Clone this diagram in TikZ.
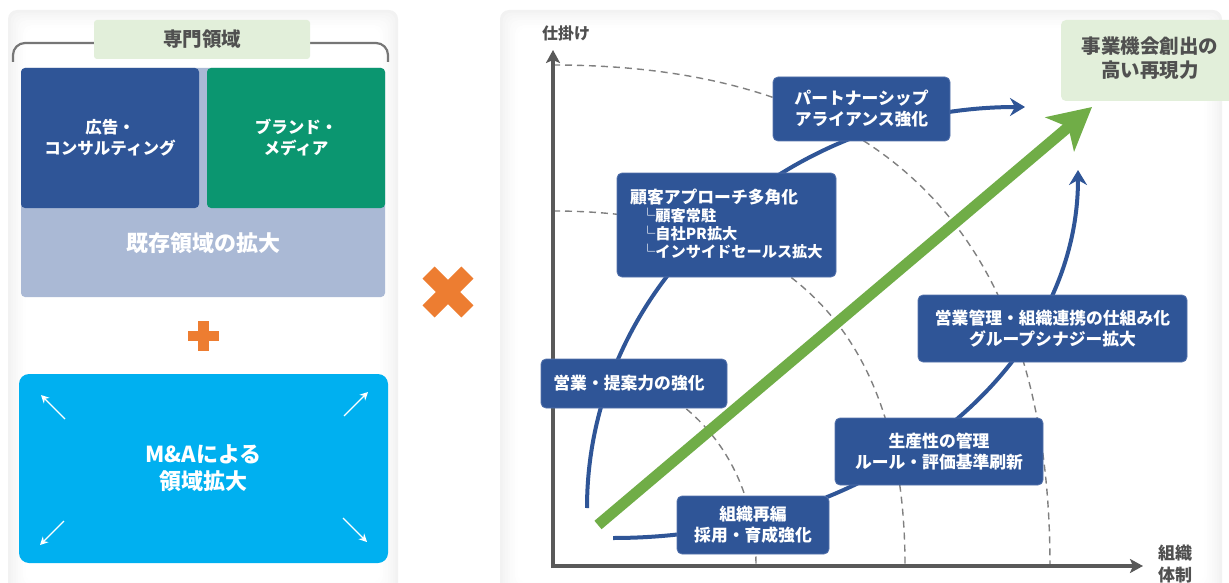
\documentclass[tikz,border=0pt]{standalone}
\usepackage{fontspec}
\newfontfamily\jp{Noto Sans CJK JP}
\usetikzlibrary{arrows.meta}
\definecolor{boxblue}{HTML}{2F5597}
\definecolor{boxedge}{HTML}{5573AC}
\definecolor{greenbox}{HTML}{0B9670}
\definecolor{lightbox}{HTML}{AAB9D5}
\definecolor{hdrfill}{HTML}{E2EFDA}
\definecolor{cyanbox}{HTML}{00B0F0}
\definecolor{orangec}{HTML}{ED7D31}
\definecolor{axisgray}{HTML}{595959}
\definecolor{dashgray}{HTML}{808080}
\definecolor{arrowgreen}{HTML}{70AD47}
\definecolor{textgray}{HTML}{505050}
\definecolor{bracketgray}{HTML}{767676}
\newcommand\fsz[2]{\fontsize{#1}{#2}\selectfont}
\begin{document}
\begin{tikzpicture}[x=1pt,y=-1pt,
  bx/.style={draw=boxedge, line width=0.8pt, fill=boxblue, rounded corners=5pt, text=white, align=center, inner sep=0pt, font=\jp\bfseries\fsz{16.8}{21}},
  subtxt/.style={text=white, inner sep=0pt, anchor=west, font=\jp\bfseries\fsz{15.2}{18}},
  blueflow/.style={draw=boxblue, line width=4pt, -{Stealth[length=15pt,width=18pt,inset=5pt]}},
  dasharc/.style={draw=dashgray, line width=1.4pt, dash pattern=on 7pt off 5pt},
  axisline/.style={draw=axisgray, line width=4.5pt, -{Stealth[length=13pt,width=14pt,inset=3pt]}},
  whitearrow/.style={draw=white, line width=1.3pt, -{Stealth[length=8pt,width=8pt]}},
  lefttile/.style={text=white, align=center, inner sep=0pt, font=\jp\bfseries\fsz{16.5}{21}},
  bigtxt/.style={text=white, align=center, inner sep=0pt, font=\jp\bfseries\fsz{22}{27}},
  graytxt/.style={text=textgray, align=center, inner sep=0pt}
]
\useasboundingbox (0,0) rectangle (1229,583);
% panels with soft edges
\foreach \i/\c in {0/5,1/4,2/3.1,3/2.3,4/1.6,5/1,6/0.5,7/0}{
  \fill[black!\c, rounded corners=9pt] (8+\i*2.5,10+\i*2.5) rectangle (398-\i*2.5,600-\i*2.5);
  \fill[black!\c, rounded corners=9pt] (500+\i*2.5,10+\i*2.5) rectangle (1222-\i*2.5,600-\i*2.5);
}
% ---------------- left panel ----------------
\draw[bracketgray, line width=2.2pt, rounded corners=12pt] (13,62) |- (94,43);
\draw[bracketgray, line width=2.2pt, rounded corners=12pt] (310,43) -| (388,62);
\node[fill=hdrfill, rounded corners=3pt, minimum width=216pt, minimum height=39pt, inner sep=0pt, text=textgray, font=\jp\bfseries\fsz{19.5}{24}] (hdr) at (202,39.5) {専門領域};
\node[fill=lightbox, rounded corners=4pt, minimum width=364pt, minimum height=229pt, inner sep=0pt] (exist) at (203,182.5) {};
\node[fill=boxblue, rounded corners=4pt, minimum width=178pt, minimum height=140pt, lefttile] (adv) at (110,138) {広告・\\コンサルティング};
\node[fill=greenbox, rounded corners=4pt, minimum width=178pt, minimum height=140pt, lefttile] (brand) at (296,138) {ブランド・\\メディア};
\node[bigtxt] (existtxt) at (203,243) {既存領域の拡大};
% plus
\fill[orangec] (188,331) rectangle (219,341);
\fill[orangec] (198,321) rectangle (209,351);
% M&A box
\node[fill=cyanbox, rounded corners=10pt, minimum width=369pt, minimum height=189pt, inner sep=0pt, bigtxt] (ma) at (203.5,468.5) {M\&Aによる\\領域拡大};
\coordinate (tl0) at (65,419); \coordinate (tl1) at (41,395);
\coordinate (tr0) at (344,416); \coordinate (tr1) at (368,392);
\coordinate (bl0) at (64,521); \coordinate (bl1) at (40,545);
\coordinate (br0) at (343,518); \coordinate (br1) at (367,542);
\draw[whitearrow] (tl0) -- (tl1);
\draw[whitearrow] (tr0) -- (tr1);
\draw[whitearrow] (bl0) -- (bl1);
\draw[whitearrow] (br0) -- (br1);
% times sign
\fill[orangec, rotate around={45:(448,292)}] (420.5,283.5) rectangle (475.5,300.5);
\fill[orangec, rotate around={-45:(448,292)}] (420.5,283.5) rectangle (475.5,300.5);
% ---------------- right panel ----------------
% dashed quarter arcs
\draw[dasharc] (553,65) .. controls (883.5,65) and (1050,233) .. (1050,566);
\draw[dasharc] (553,211) .. controls (787,211) and (905,330) .. (905,566);
\draw[dasharc] (553,363) .. controls (671,363) and (756,448) .. (756,566);
% axes
\coordinate (O) at (553,566);
\coordinate (ytop) at (553,50);
\coordinate (xend) at (1143,566);
\draw[axisline] (553,568) -- (ytop);
\draw[axisline] (551,566) -- (xend);
\node[graytxt, font=\jp\bfseries\fsz{16}{20}] (ylab) at (566,33) {仕掛け};
\node[graytxt, font=\jp\bfseries\fsz{17}{22}] (xlab) at (1175,564) {組織\\体制};
% blue flow arrows
\coordinate (f1s) at (587,508);
\coordinate (f2s) at (613,538);
\draw[blueflow] (f1s) arc[start angle=180, end angle=90, x radius=438pt, y radius=401pt];
\draw[blueflow] (f2s) arc[start angle=270, end angle=360, x radius=465pt, y radius=368pt];
% green arrow
\coordinate (gs) at (598,525);
\coordinate (ge) at (1092,107);
\draw[arrowgreen, line width=11pt, -{Stealth[length=42pt,width=44pt,inset=11pt]}] (gs) -- (ge);
% target box
\node[fill=hdrfill, rounded corners=5pt, minimum width=180pt, minimum height=81pt, inner sep=0pt] (goal) at (1151,60.5) {};
\node[graytxt, font=\jp\bfseries\fsz{19.5}{24}] (goaltxt) at (1150,58) {事業機会創出の\\高い再現力};
% boxes
\node[bx, minimum width=177pt, minimum height=64pt] (partner) at (861.5,109) {パートナーシップ\\アライアンス強化};
\node[bx, minimum width=219pt, minimum height=104pt] (kokyaku) at (726.5,225) {};
\node[subtxt, font=\jp\bfseries\fsz{16.8}{21}] (k1) at (630,197) {顧客アプローチ多角化};
\node[subtxt] (k2) at (640,216) {└顧客常駐};
\node[subtxt] (k3) at (640,234) {└自社PR拡大};
\node[subtxt] (k4) at (640,252) {└インサイドセールス拡大};
\node[bx, minimum width=186pt, minimum height=49pt] (eigyo) at (634,383.5) {};
\node[text=white, inner sep=0pt, font=\jp\bfseries\fsz{16.8}{21}] (eigyotxt) at (629,383) {営業・提案力の強化};
\node[bx, minimum width=152pt, minimum height=58pt] (soshiki) at (753,525) {組織再編\\採用・育成強化};
\node[bx, minimum width=208pt, minimum height=67pt] (seisan) at (939,451.5) {生産性の管理\\ルール・評価基準刷新};
\node[bx, minimum width=269pt, minimum height=67pt] (kanri) at (1052.5,328.5) {営業管理・組織連携の仕組み化\\グループシナジー拡大};
\end{tikzpicture}
\end{document}
